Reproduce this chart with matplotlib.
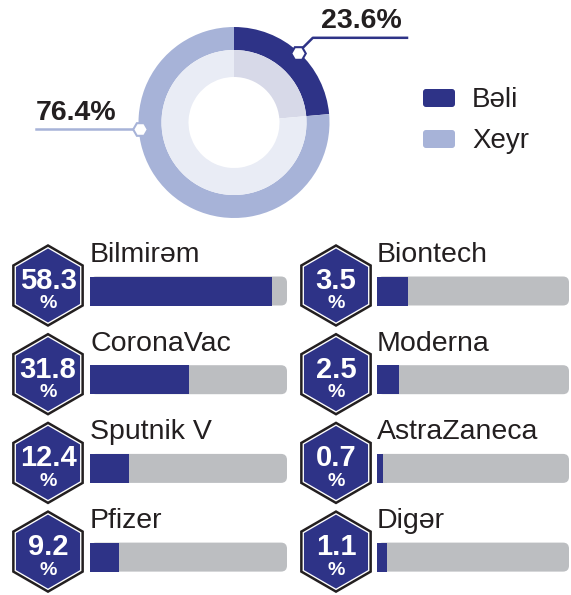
import numpy as np
import matplotlib
matplotlib.use("Agg")
import matplotlib.pyplot as plt
from matplotlib.patches import FancyBboxPatch, Rectangle, Polygon

plt.rcParams["font.family"] = ["Liberation Sans", "DejaVu Sans"]

# ---- data ----------------------------------------------------------------
donut_labels = ["Bəli", "Xeyr"]
donut_values = [23.6, 76.4]

left_names = ["Bilmirəm", "CoronaVac", "Sputnik V", "Pfizer"]
left_values = [58.3, 31.8, 12.4, 9.2]
right_names = ["Biontech", "Moderna", "AstraZaneca", "Digər"]
right_values = [3.5, 2.5, 0.7, 1.1]

# ---- style ---------------------------------------------------------------
NAVY = "#2E3387"
LIGHT = "#A7B3D8"
IN_DARK = "#D7D9E8"
IN_LIGHT = "#E9ECF5"
TRACK = "#BCBEC1"
INK = "#231F20"

W, H = 571, 595
fig = plt.figure(figsize=(W / 100, H / 100), dpi=100)

# pixel-space overlay
ov = fig.add_axes([0, 0, 1, 1], zorder=2)
ov.set_xlim(0, W); ov.set_ylim(H, 0); ov.axis("off")

# ---- donut ---------------------------------------------------------------
cx, cy, R = 234, 122.5, 100
dax = fig.add_axes([(cx - R) / W, (H - cy - R) / H, 2 * R / W, 2 * R / H], zorder=1)
dax.pie(donut_values, radius=0.955, startangle=90, counterclock=False,
        colors=[NAVY, LIGHT], wedgeprops=dict(width=0.23, linewidth=0))
dax.pie(donut_values, radius=0.725, startangle=90, counterclock=False,
        colors=[IN_DARK, IN_LIGHT], wedgeprops=dict(width=0.27, linewidth=0))
dax.set_xlim(-1, 1); dax.set_ylim(-1, 1); dax.axis("off")

# leader for "Bəli" (mid of wedge)
a = np.deg2rad(90 - donut_values[0] / 100 * 360 / 2)
px, py = cx + 94.5 * np.cos(a), cy - 94.5 * np.sin(a)
ov.plot([px, px + 15, 407], [py, py - 15, py - 15], color=NAVY, lw=1.8, zorder=3)
ov.plot(px, py, marker="H", ms=10.5, mfc="white", mec=NAVY, mew=1.5, zorder=4)
ov.text(321, py - 25, f"{donut_values[0]}%", fontsize=20.5, fontweight="bold",
        color=INK, ha="left", va="baseline")

# leader for "Xeyr"
a = np.deg2rad(184)
qx, qy = cx + 94.5 * np.cos(a), cy - 94.5 * np.sin(a)
ov.plot([qx, 36], [qy, qy], color=LIGHT, lw=1.8, zorder=3)
ov.plot(qx, qy, marker="H", ms=10.5, mfc="white", mec=LIGHT, mew=1.5, zorder=4)
ov.text(36, qy - 9, f"{donut_values[1]}%", fontsize=20.5, fontweight="bold",
        color=INK, ha="left", va="baseline")

# legend
for i, (lab, col) in enumerate(zip(donut_labels, [NAVY, LIGHT])):
    y0 = 89 + i * 41
    ov.add_patch(FancyBboxPatch((423, y0), 32, 18, boxstyle="round,pad=0,rounding_size=3",
                                fc=col, ec="none"))
    ov.text(472, y0 + 18, lab, fontsize=20, color=INK, ha="left", va="baseline")


# ---- hexagon rows --------------------------------------------------------
def hexagon(x, y, r):
    ang = np.deg2rad(90 + 60 * np.arange(6))
    return np.column_stack([x + r * np.cos(ang), y - r * np.sin(ang)])


def column(names, values, hx, x0, tw, vmax):
    for i, (name, v) in enumerate(zip(names, values)):
        yc = 291 + i * 88.7          # bar centre
        hy = yc - 5.5                # hexagon centre
        ov.add_patch(Polygon(hexagon(hx, hy, 40), closed=True, fc="white", ec=INK, lw=1.8))
        ov.add_patch(Polygon(hexagon(hx, hy, 37), closed=True, fc=NAVY, ec="none"))
        ov.text(hx, hy + 3.5, f"{v}", fontsize=21, fontweight="bold", color="white",
                ha="center", va="baseline")
        ov.text(hx, hy + 23, "%", fontsize=14, fontweight="bold", color="white",
                ha="center", va="baseline")
        ov.text(x0, yc - 29, name, fontsize=20.5, color=INK, ha="left", va="baseline")
        # track
        ov.add_patch(FancyBboxPatch((x0, yc - 14.5), tw, 29,
                                    boxstyle="round,pad=0,rounding_size=6", fc=TRACK, ec="none"))
        ov.add_patch(Rectangle((x0, yc - 14.5), 10, 29, fc=TRACK, ec="none"))
        # value bar
        bax = fig.add_axes([x0 / W, (H - yc - 14.5) / H, tw / W, 29 / H], zorder=3)
        bax.barh(0, v, height=1, color=NAVY, left=0)
        bax.set_xlim(0, vmax); bax.set_ylim(-0.5, 0.5)
        bax.axis("off")


column(left_names, left_values, 48, 90, 197, 63)
column(right_names, right_values, 336, 377, 192, 22)

fig.savefig("out.png", dpi=100)
